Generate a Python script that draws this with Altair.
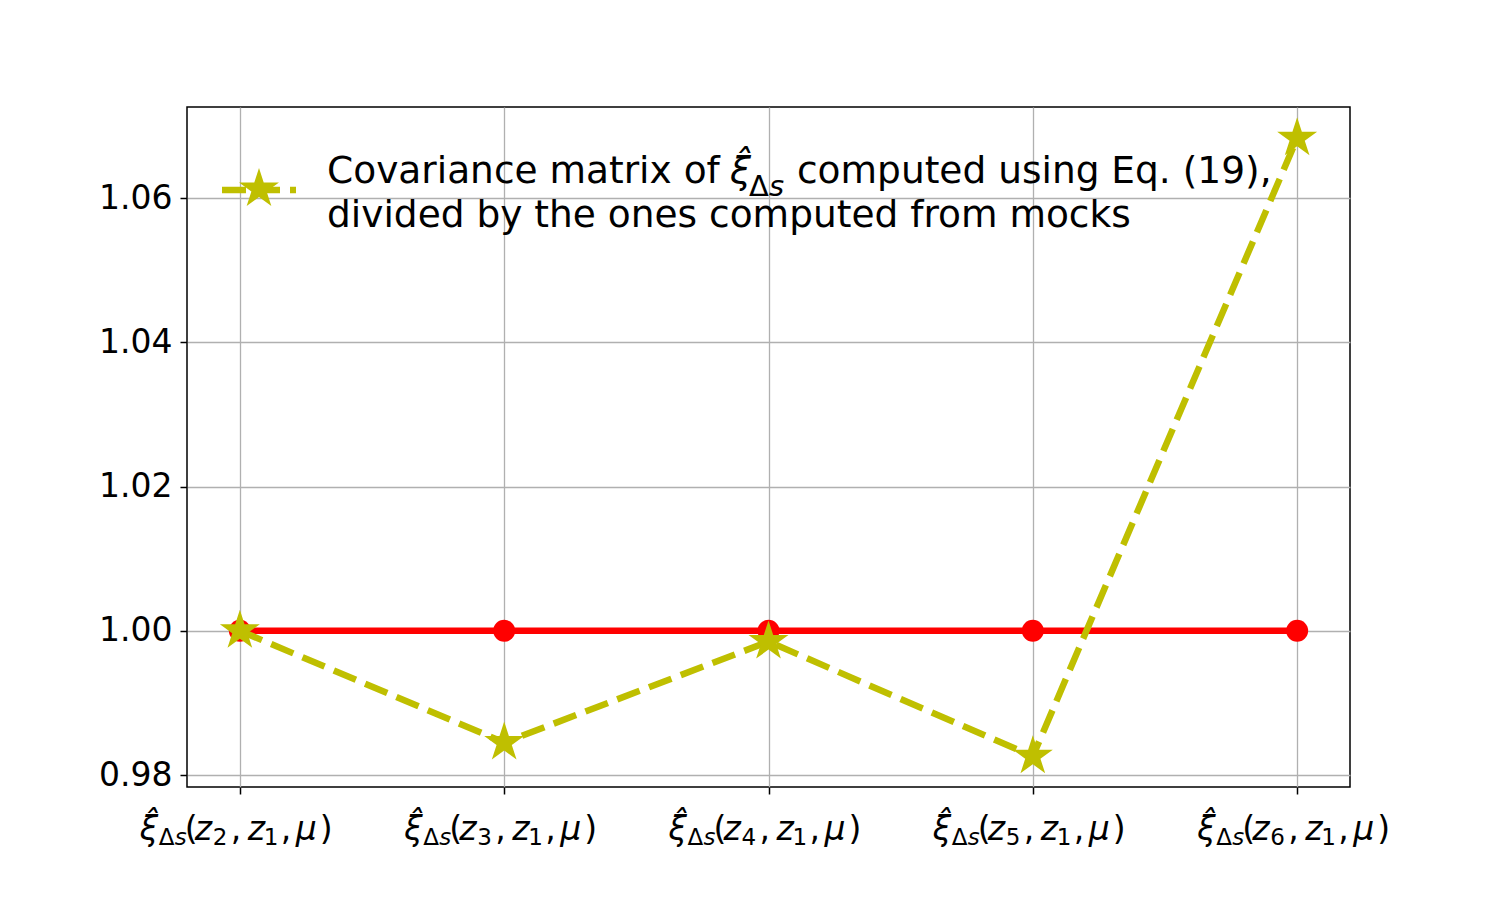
import altair as alt
import pandas as pd

# ---- data ----
cat_index = [0, 1, 2, 3, 4]
z_first_sub = ["2", "3", "4", "5", "6"]
reference_values = [1.0, 1.0, 1.0, 1.0, 1.0]
ratio_values = [1.0, 0.9845, 0.9985, 0.9826, 1.0683]
y_ticks = [0.98, 1.00, 1.02, 1.04, 1.06]

legend_line1_a = "Covariance matrix of"
legend_line1_b = "computed using Eq. (19),"
legend_line2 = "divided by the ones computed from mocks"

W, H = 1163, 680
FONT = "DejaVu Sans"
RED = "#ff0000"
OLIVE = "#bfbf00"
STAR = ("M0,-1L0.2245,-0.309L0.951,-0.309L0.363,0.118L0.588,0.809L0,0.382"
        "L-0.588,0.809L-0.363,0.118L-0.951,-0.309L-0.2245,-0.309Z")

df_ref = pd.DataFrame({"i": cat_index, "v": reference_values})
df_ratio = pd.DataFrame({"i": cat_index, "v": ratio_values})
df_lab = pd.DataFrame({"i": cat_index, "sub": z_first_sub})

xs = alt.Scale(domain=[-0.2, 4.2], nice=False, zero=False)
ys = alt.Scale(domain=[0.97834, 1.07262], nice=False, zero=False)

x_axis = alt.Axis(values=cat_index, labels=False, title=None, domain=False,
                  tickSize=7, tickColor="black", tickWidth=1.5,
                  grid=True, gridColor="#b0b0b0", gridWidth=1.3)
y_axis = alt.Axis(values=y_ticks, format=".2f", title=None, domain=False,
                  tickSize=7, tickColor="black", tickWidth=1.5,
                  labelFont=FONT, labelFontSize=33, labelColor="black",
                  labelPadding=8,
                  grid=True, gridColor="#b0b0b0", gridWidth=1.3)

X = alt.X("i:Q", scale=xs, axis=x_axis)
Y = alt.Y("v:Q", scale=ys, axis=y_axis)

red_line = alt.Chart(df_ref).mark_line(color=RED, strokeWidth=6.5).encode(x=X, y=Y)
red_pts = alt.Chart(df_ref).mark_point(shape="circle", filled=True, color=RED,
                                        size=484, opacity=1).encode(x=X, y=Y)
ol_line = alt.Chart(df_ratio).mark_line(color=OLIVE, strokeWidth=6.5,
                                        strokeDash=[24, 10]).encode(x=X, y=Y)
ol_pts = alt.Chart(df_ratio).mark_point(shape=STAR, filled=True, color=OLIVE,
                                         size=1764, opacity=1).encode(x=X, y=Y)

# ---- x tick labels, composed pieces: (text or field, dx, dy, size, style) ----
lab_y = 733
pieces = [
    ("ξ̂", -100, 0, 33, "italic"),
    ("Δ", -81, 5, 23, "normal"),
    ("s", -65, 5, 23, "italic"),
    ("(", -55, 0, 33, "normal"),
    ("z", -45, 0, 33, "italic"),
    ("@sub", -27, 5, 23, "normal"),
    (",", -9, 0, 33, "normal"),
    ("z", 8, 0, 33, "italic"),
    ("1", 24, 5, 23, "normal"),
    (",", 41, 0, 33, "normal"),
    ("μ", 56, 0, 33, "italic"),
    (")", 80, 0, 33, "normal"),
]
label_layers = []
for txt, dx, dy, size, style in pieces:
    text_enc = alt.Text("sub:N") if txt == "@sub" else alt.value(txt)
    label_layers.append(
        alt.Chart(df_lab).mark_text(font=FONT, fontSize=size, fontStyle=style,
                                    align="left", baseline="alphabetic",
                                    dx=dx, color="black").encode(
            x=X, y=alt.value(lab_y + dy), text=text_enc))

# ---- legend ----
one = pd.DataFrame({"k": [0]})
leg_line = alt.Chart(one).mark_rule(color=OLIVE, strokeWidth=6.5,
                                    strokeDash=[24, 10]).encode(
    x=alt.value(35), x2=alt.value(109), y=alt.value(83))
leg_star = alt.Chart(one).mark_point(shape=STAR, filled=True, color=OLIVE,
                                     size=1764, opacity=1).encode(
    x=alt.value(72), y=alt.value(82))

def leg_text(txt, x, y, size=37.5, style="normal"):
    d = pd.DataFrame({"t": [txt]})
    return alt.Chart(d).mark_text(font=FONT, fontSize=size, fontStyle=style,
                                  align="left", baseline="alphabetic",
                                  color="black").encode(
        x=alt.value(x), y=alt.value(y), text="t:N")

leg1a = leg_text(legend_line1_a, 140, 76)
leg1hat = leg_text("ξ̂", 543, 76, style="italic")
leg1d = leg_text("Δ", 562, 89, size=29)
leg1s = leg_text("s", 582, 89, size=29, style="italic")
leg1b = leg_text(legend_line1_b, 610, 76)
leg2 = leg_text(legend_line2, 140, 120)

chart = alt.layer(
    red_line, red_pts, ol_line, ol_pts,
    *label_layers,
    leg_line, leg_star, leg1a, leg1hat, leg1d, leg1s, leg1b, leg2,
).properties(
    width=W, height=H,
    autosize=alt.AutoSizeParams(type="none"),
    padding={"left": 187, "top": 107, "right": 150, "bottom": 113},
    background="white",
).configure_view(stroke="black", strokeWidth=1.5)

chart.save("out.html", embed_options={"renderer": "svg", "actions": False})
